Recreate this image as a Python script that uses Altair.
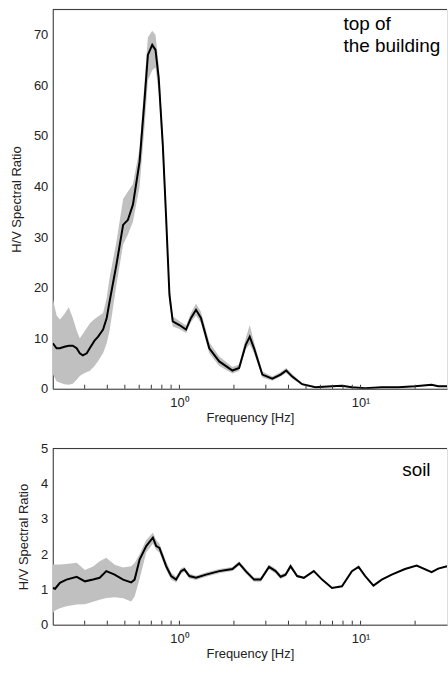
import altair as alt
import pandas as pd

# ---------------- data ----------------
top_freq = [0.2, 0.210, 0.219, 0.232, 0.245, 0.258, 0.271, 0.282, 0.293, 0.308,
            0.320, 0.340, 0.356, 0.379, 0.397, 0.412, 0.449, 0.489, 0.520, 0.554,
            0.603, 0.643, 0.670, 0.708, 0.738, 0.769, 0.810, 0.845, 0.881, 0.919,
            1.0, 1.088, 1.159, 1.235, 1.315, 1.462, 1.659, 1.963, 2.136, 2.324,
            2.445, 2.583, 2.870, 3.258, 3.619, 3.888, 4.197, 4.760, 5.636, 6.953,
            7.894, 8.958, 10.61, 13.09, 16.17, 19.96, 24.66, 26.83, 30.0]
top_mean = [9.0, 8.0, 8.0, 8.3, 8.5, 8.5, 8.0, 7.0, 6.6, 7.0,
            8.0, 9.5, 10.3, 11.7, 14.0, 17.3, 24.5, 32.4, 33.4, 36.4,
            44.9, 57.4, 66.0, 68.0, 67.0, 61.4, 48.2, 33.7, 18.6, 13.3,
            12.6, 11.7, 14.0, 15.6, 14.0, 8.0, 5.4, 3.6, 4.1, 8.7,
            10.3, 8.0, 2.8, 2.0, 2.8, 3.6, 2.4, 0.9, 0.3, 0.5,
            0.6, 0.3, 0.1, 0.3, 0.3, 0.5, 0.8, 0.5, 0.5]
top_lo = [2.9, 1.5, 1.2, 0.9, 0.8, 1.0, 1.8, 2.5, 2.9, 3.3,
          3.5, 4.5, 5.5, 7.0, 9.0, 11.5, 20.5, 28.5, 30.5, 33.0,
          40.0, 52.0, 61.0, 63.0, 63.5, 58.5, 45.6, 31.0, 17.0, 12.3,
          11.8, 11.0, 13.2, 14.5, 13.0, 7.0, 4.5, 3.0, 3.5, 7.8,
          8.8, 7.0, 2.2, 1.6, 2.4, 3.1, 2.0, 0.7, 0.2, 0.4,
          0.5, 0.2, 0.05, 0.2, 0.2, 0.4, 0.7, 0.4, 0.4]
top_hi = [17.9, 14.5, 13.7, 14.8, 16.1, 14.0, 11.5, 10.0, 10.8, 12.0,
          12.9, 13.8, 14.3, 15.0, 18.0, 22.0, 29.0, 37.5, 39.0, 40.5,
          47.5, 61.0, 69.5, 70.8, 70.0, 64.0, 50.5, 36.0, 20.5, 14.3,
          13.4, 12.5, 15.0, 16.8, 15.2, 9.2, 6.4, 4.3, 4.8, 10.0,
          12.6, 9.2, 3.4, 2.4, 3.3, 4.1, 2.9, 1.1, 0.4, 0.6,
          0.7, 0.4, 0.2, 0.4, 0.4, 0.6, 0.9, 0.6, 0.6]

bot_freq = [0.2, 0.206, 0.219, 0.238, 0.271, 0.301, 0.334, 0.363, 0.395, 0.439,
            0.489, 0.542, 0.566, 0.603, 0.656, 0.714, 0.745, 0.776, 0.845, 0.900,
            0.959, 1.021, 1.065, 1.135, 1.235, 1.401, 1.659, 1.963, 2.136, 2.324,
            2.583, 2.811, 3.124, 3.397, 3.619, 3.855, 4.108, 4.467, 4.862, 5.519,
            6.133, 6.953, 7.894, 8.958, 9.75, 10.61, 11.78, 13.09, 14.86, 17.59,
            20.40, 24.66, 26.83, 30.0]
bot_mean = [1.04, 1.02, 1.19, 1.28, 1.36, 1.23, 1.28, 1.33, 1.52, 1.42,
            1.28, 1.20, 1.28, 1.85, 2.23, 2.47, 2.23, 2.18, 1.66, 1.38,
            1.28, 1.52, 1.57, 1.38, 1.33, 1.42, 1.52, 1.58, 1.74, 1.52,
            1.28, 1.28, 1.64, 1.52, 1.36, 1.42, 1.66, 1.38, 1.33, 1.52,
            1.28, 1.04, 1.09, 1.52, 1.64, 1.38, 1.11, 1.28, 1.42, 1.58,
            1.68, 1.49, 1.59, 1.66]
bot_lo = [0.33, 0.40, 0.47, 0.52, 0.57, 0.58, 0.65, 0.71, 0.76, 0.78,
          0.75, 0.66, 0.80, 1.30, 2.05, 2.30, 2.12, 2.05, 1.55, 1.28,
          1.20, 1.44, 1.50, 1.31, 1.27, 1.36, 1.46, 1.52, 1.68, 1.45,
          1.22, 1.22, 1.57, 1.45, 1.30, 1.36, 1.59, 1.34, 1.31, 1.50,
          1.27, 1.03, 1.08, 1.51, 1.63, 1.37, 1.10, 1.27, 1.41, 1.57,
          1.67, 1.48, 1.58, 1.65]
bot_hi = [1.71, 1.71, 1.71, 1.72, 1.76, 1.55, 1.65, 1.80, 1.90, 1.70,
          1.62, 1.66, 1.75, 2.00, 2.40, 2.61, 2.40, 2.30, 1.80, 1.48,
          1.36, 1.60, 1.64, 1.45, 1.39, 1.48, 1.58, 1.64, 1.80, 1.59,
          1.34, 1.34, 1.71, 1.59, 1.42, 1.48, 1.73, 1.42, 1.35, 1.54,
          1.29, 1.05, 1.10, 1.53, 1.65, 1.39, 1.12, 1.29, 1.43, 1.59,
          1.69, 1.50, 1.60, 1.67]

minor_ticks = [0.3, 0.4, 0.5, 0.6, 0.7, 0.8, 0.9, 1, 2, 3, 4, 5, 6, 7, 8, 9, 10, 20]
major_ticks = [1, 10]
top_yticks = [0, 10, 20, 30, 40, 50, 60, 70]
bot_yticks = [0, 1, 2, 3, 4, 5]
top_label = "top of\nthe building"
bot_label = "soil"
x_title = "Frequency [Hz]"
y_title = "H/V Spectral Ratio"

X_DOMAIN = [0.2, 30]
W = 396
AX_FONT = "Liberation Sans"
AX_SIZE = 13
TXT = "#222222"
LINE = "#333333"


def panel(freq, mean, lo, hi, ymax, yticks, h, label, lx, ly):
    df = pd.DataFrame({"f": freq, "m": mean, "lo": lo, "hi": hi})
    xs = alt.Scale(type="log", domain=X_DOMAIN, nice=False)
    ys = alt.Scale(domain=[0, ymax], nice=False, zero=True)
    xaxis = alt.Axis(values=major_ticks, ticks=False, grid=False,
                     labelExpr="datum.value == 1 ? '10\u2070' : '10\u00b9'",
                     labelFont=AX_FONT, labelFontSize=AX_SIZE, labelColor=TXT,
                     labelPadding=8, labelOverlap=False, domainColor=LINE,
                     title=x_title, titleFont=AX_FONT, titleFontSize=AX_SIZE,
                     titleFontWeight="normal", titleColor=TXT, titlePadding=2)
    yaxis = alt.Axis(values=yticks, ticks=False, grid=False,
                     labelFont=AX_FONT, labelFontSize=AX_SIZE, labelColor=TXT,
                     labelPadding=5, labelOverlap=False, domainColor=LINE,
                     title=y_title, titleFont=AX_FONT, titleFontSize=AX_SIZE,
                     titleFontWeight="normal", titleColor=TXT, titlePadding=10)
    band = alt.Chart(df).mark_area(color="#c0c0c0", clip=True).encode(
        x=alt.X("f:Q", scale=xs, axis=xaxis),
        y=alt.Y("lo:Q", scale=ys, axis=yaxis),
        y2="hi:Q",
    )
    line = alt.Chart(df).mark_line(color="black", strokeWidth=2, clip=True).encode(
        x=alt.X("f:Q", scale=xs, axis=xaxis),
        y=alt.Y("m:Q", scale=ys, axis=yaxis))
    tdf = pd.DataFrame({"t": minor_ticks})
    ticks = alt.Chart(tdf).mark_rule(color=LINE, strokeWidth=1).encode(
        x=alt.X("t:Q", scale=xs, axis=xaxis), y=alt.value(h - 4), y2=alt.value(h))
    border = alt.Chart(pd.DataFrame({"t": [0]})).mark_rule(color=LINE, strokeWidth=1).encode(
        x=alt.value(0), x2=alt.value(W), y=alt.value(0))
    txt = alt.Chart(pd.DataFrame({"s": [label]})).mark_text(
        font="Liberation Sans", fontSize=19, color="black", align="left",
        baseline="top", lineBreak="\n", lineHeight=22).encode(
        text="s:N", x=alt.value(lx), y=alt.value(ly))
    return alt.layer(band, line, ticks, border, txt).properties(width=W, height=h)


top = panel(top_freq, top_mean, top_lo, top_hi, 75, top_yticks, 381,
            top_label, 292, 6)
bot = panel(bot_freq, bot_mean, bot_lo, bot_hi, 5, bot_yticks, 177,
            bot_label, 351, 13)

chart = alt.vconcat(top, bot, spacing=16).properties(
    padding={"left": 10, "top": 7, "right": 0, "bottom": 0}
).configure_view(stroke=None).configure(background="white")

chart.save("out.html", embed_options={"renderer": "svg", "actions": False})
